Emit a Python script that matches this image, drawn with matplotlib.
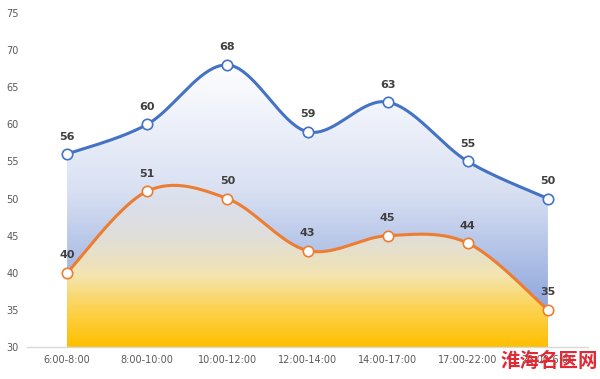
import numpy as np
import matplotlib
matplotlib.use("Agg")
import matplotlib.pyplot as plt
from matplotlib.path import Path
from matplotlib.patches import PathPatch
from matplotlib.colors import LinearSegmentedColormap

categories = ["6:00-8:00", "8:00-10:00", "10:00-12:00", "12:00-14:00",
              "14:00-17:00", "17:00-22:00", "22:00-6:00"]
series_blue = [56, 60, 68, 59, 63, 55, 50]
series_orange = [40, 51, 50, 43, 45, 44, 35]
yticks = [30, 35, 40, 45, 50, 55, 60, 65, 70, 75]

plt.rcParams['font.family'] = ['DejaVu Sans']

def smooth(xs, ys, n=40):
    xs = np.asarray(xs, float); ys = np.asarray(ys, float)
    P = np.column_stack([xs, ys])
    out = []
    m = len(P)
    for i in range(m - 1):
        p0 = P[i - 1] if i > 0 else P[i]
        p1 = P[i]; p2 = P[i + 1]
        p3 = P[i + 2] if i + 2 < m else P[i + 1]
        c1 = p1 + (p2 - p0) / 6.0
        c2 = p2 - (p3 - p1) / 6.0
        t = np.linspace(0, 1, n)[:, None]
        seg = ((1 - t) ** 3) * p1 + 3 * ((1 - t) ** 2) * t * c1 + 3 * (1 - t) * t ** 2 * c2 + t ** 3 * p2
        if i > 0:
            seg = seg[1:]
        out.append(seg)
    pts = np.vstack(out)
    return pts[:, 0], pts[:, 1]

fig = plt.figure(figsize=(6.0, 3.79), dpi=100)
ax = fig.add_axes([0.045, 0.0844, 0.935, 0.8813])
x = np.arange(len(categories))
ax.set_xlim(-0.5, len(categories) - 0.5)
ax.set_ylim(30, 75)

def gradient_fill(xs, ys, top_val, stops, z):
    verts = [(xs[0], 30)] + list(zip(xs, ys)) + [(xs[-1], 30), (xs[0], 30)]
    codes = [Path.MOVETO] + [Path.LINETO] * (len(verts) - 2) + [Path.CLOSEPOLY]
    patch = PathPatch(Path(verts, codes), facecolor='none', edgecolor='none')
    ax.add_patch(patch)
    cmap = LinearSegmentedColormap.from_list('g', stops)
    grad = np.linspace(0, 1, 256).reshape(-1, 1)
    im = ax.imshow(grad, cmap=cmap, aspect='auto', origin='lower',
                   extent=[xs[0], xs[-1], 30, top_val], zorder=z)
    im.set_clip_path(patch)

bx, by = smooth(x, series_blue)
ox, oy = smooth(x, series_orange)

gradient_fill(bx, by, max(series_blue) + 0.5,
              [(0.0, (0.47, 0.58, 0.84, 1.0)), (0.55, (0.85, 0.88, 0.95, 1.0)),
               (1.0, (1.0, 1.0, 1.0, 1.0))], 1)
gradient_fill(ox, oy, max(series_orange) + 0.5,
              [(0.0, (1.0, 0.75, 0.0, 1.0)), (0.25, (0.99, 0.83, 0.33, 1.0)),
               (0.45, (0.98, 0.91, 0.68, 0.95)), (0.75, (0.95, 0.92, 0.85, 0.6)),
               (1.0, (0.95, 0.93, 0.9, 0.15))], 2)

ax.plot(bx, by, color='#4472c4', lw=2.2, zorder=4, solid_capstyle='round')
ax.plot(ox, oy, color='#ed7d31', lw=2.2, zorder=4, solid_capstyle='round')
ax.plot(x, series_blue, 'o', ms=7.5, mfc='white', mec='#4472c4', mew=1.2, zorder=5)
ax.plot(x, series_orange, 'o', ms=7.5, mfc='white', mec='#ed7d31', mew=1.2, zorder=5)

for xi, v in zip(x, series_blue):
    ax.annotate(str(v), (xi, v), xytext=(0, 9), textcoords='offset points',
                ha='center', va='bottom', fontsize=8, fontweight='bold', color='#404040', zorder=6)
for xi, v in zip(x, series_orange):
    ax.annotate(str(v), (xi, v), xytext=(0, 9), textcoords='offset points',
                ha='center', va='bottom', fontsize=8, fontweight='bold', color='#404040', zorder=6)

ax.set_xticks(x)
ax.set_xticklabels(categories, fontsize=7, color='#595959')
ax.set_yticks(yticks)
ax.set_yticklabels([str(t) for t in yticks], fontsize=7, color='#595959')
ax.tick_params(axis='both', length=0, pad=6)
for s in ['top', 'right', 'left']:
    ax.spines[s].set_visible(False)
ax.spines['bottom'].set_color('#d9d9d9')
ax.spines['bottom'].set_linewidth(1)

fig.text(0.835, 0.045, '淮海名医网', family=['Noto Sans CJK SC', 'DejaVu Sans'],
         fontsize=14, fontweight='bold', color='#e02a36', style='italic',
         ha='left', va='center', zorder=10)

fig.savefig('out.png', dpi=100)
